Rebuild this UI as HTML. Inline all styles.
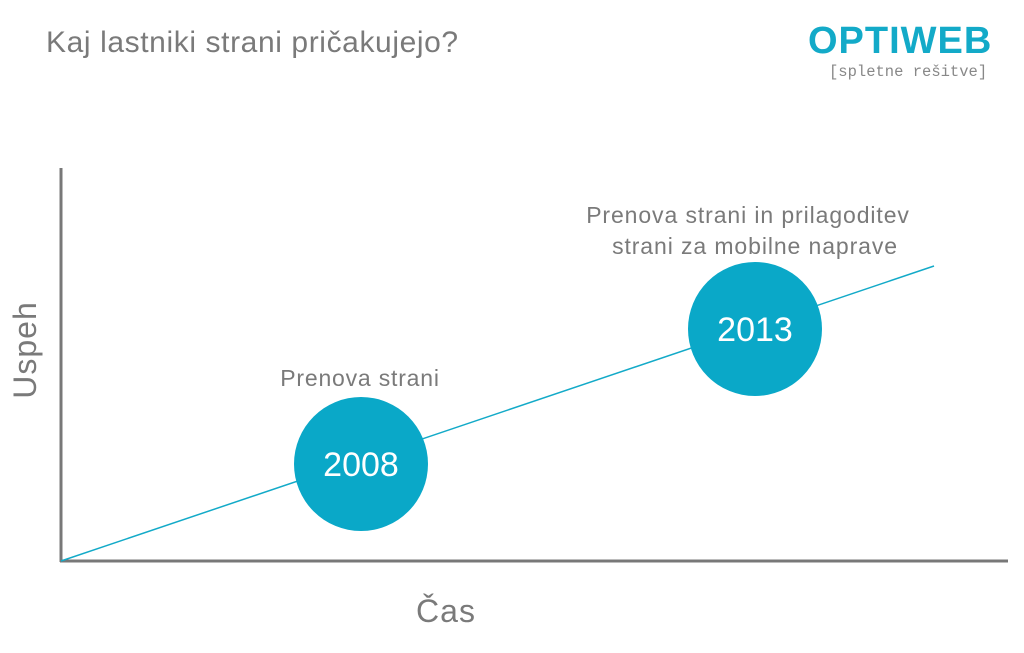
<!DOCTYPE html>
<html><head><meta charset="utf-8"><style>
body{margin:0;background:#fff}
svg text{font-family:"Liberation Sans","DejaVu Sans",sans-serif}
</style></head><body>
<svg width="1024" height="648" viewBox="0 0 1024 648" xmlns="http://www.w3.org/2000/svg">
<rect width="1024" height="648" fill="#fff"/>
<text x="46" y="52" font-size="30" fill="#7a7a7a" letter-spacing="0.6">Kaj lastniki strani pričakujejo?</text>
<text x="808" y="53" font-size="38" font-weight="bold" fill="#13aac8" letter-spacing="1">OPTIWEB</text>
<text x="829" y="76" font-size="15.5" fill="#888" style="font-family:'Liberation Mono',monospace">[spletne rešitve]</text>
<line x1="61" y1="168" x2="61" y2="562" stroke="#787878" stroke-width="3"/>
<line x1="60" y1="561" x2="1008" y2="561" stroke="#787878" stroke-width="3"/>
<line x1="61" y1="561" x2="934" y2="266" stroke="#13aac8" stroke-width="1.5"/>
<circle cx="361" cy="464" r="67" fill="#0aa8c8"/>
<circle cx="755" cy="329" r="67" fill="#0aa8c8"/>
<text x="361" y="476" font-size="34" fill="#fff" text-anchor="middle">2008</text>
<text x="755" y="341" font-size="34" fill="#fff" text-anchor="middle">2013</text>
<text x="360" y="386" font-size="23" fill="#7a7a7a" text-anchor="middle" letter-spacing="0.8">Prenova strani</text>
<text x="748" y="223" font-size="23" fill="#7a7a7a" text-anchor="middle" letter-spacing="0.9">Prenova strani in prilagoditev</text>
<text x="755" y="254" font-size="23" fill="#7a7a7a" text-anchor="middle" letter-spacing="0.9">strani za mobilne naprave</text>
<text transform="translate(36,350) rotate(-90)" font-size="32" fill="#7a7a7a" text-anchor="middle" letter-spacing="1">Uspeh</text>
<text x="446" y="622" font-size="32" fill="#7a7a7a" text-anchor="middle" letter-spacing="1">Čas</text>
</svg>
</body></html>
